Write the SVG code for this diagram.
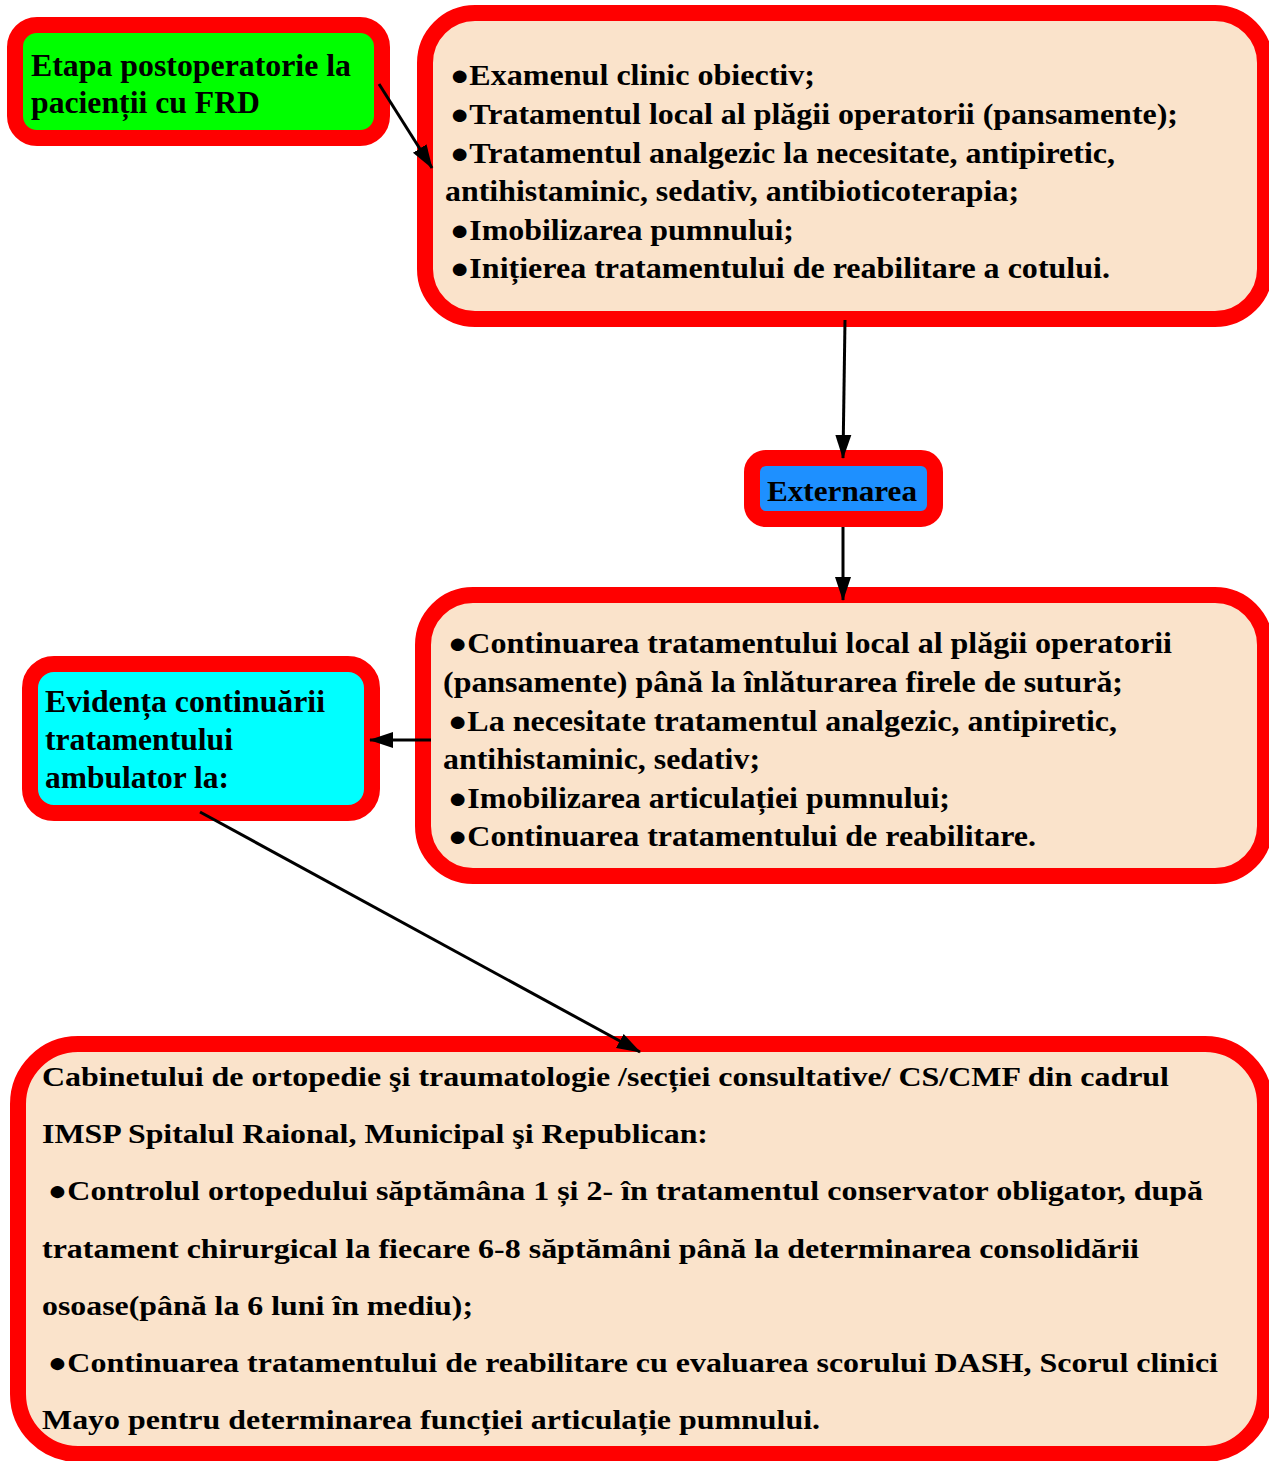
<svg xmlns="http://www.w3.org/2000/svg" width="1269" height="1461" viewBox="0 0 1269 1461">
<style>
.box{stroke:#FF0000;stroke-width:16}
.t{font-family:"Liberation Serif","Times New Roman",serif;font-weight:bold;fill:#000}
.c{stroke:#000;stroke-width:3;fill:none;marker-end:url(#ah)}
</style>
<defs>
<marker id="ah" markerUnits="userSpaceOnUse" markerWidth="24" markerHeight="20" viewBox="0 0 24 20" refX="23" refY="10" orient="auto">
<path d="M0,2 L24,10 L0,18 Z" fill="#000"/>
</marker>
</defs>
<rect width="1269" height="1461" fill="#fff"/>
<g id="n1">
<rect class="box" x="15" y="25" width="367" height="113" rx="22" fill="#00FF00"/>
<text class="t" font-size="31" x="31" y="76" textLength="320" lengthAdjust="spacingAndGlyphs">Etapa postoperatorie la</text>
<text class="t" font-size="31" x="31" y="113" textLength="229" lengthAdjust="spacingAndGlyphs">pacienții cu FRD</text>
</g>
<g id="n2">
<rect class="box" x="425" y="13" width="840" height="306" rx="50" fill="#FAE3CB"/>
<g class="t" font-size="29">
<text x="450" y="85" textLength="365" lengthAdjust="spacingAndGlyphs">●Examenul clinic obiectiv;</text>
<text x="450" y="124" textLength="728" lengthAdjust="spacingAndGlyphs">●Tratamentul local al plăgii operatorii (pansamente);</text>
<text x="450" y="163" textLength="665" lengthAdjust="spacingAndGlyphs">●Tratamentul analgezic la necesitate, antipiretic,</text>
<text x="445" y="201" textLength="574" lengthAdjust="spacingAndGlyphs">antihistaminic, sedativ, antibioticoterapia;</text>
<text x="450" y="240" textLength="344" lengthAdjust="spacingAndGlyphs">●Imobilizarea pumnului;</text>
<text x="450" y="278" textLength="660" lengthAdjust="spacingAndGlyphs">●Inițierea tratamentului de reabilitare a cotului.</text>
</g>
</g>
<g id="n3">
<rect class="box" x="752" y="458" width="183" height="61" rx="14" fill="#1E90FF"/>
<text class="t" font-size="30" x="767" y="501" textLength="150" lengthAdjust="spacingAndGlyphs">Externarea</text>
</g>
<g id="n4">
<rect class="box" x="423" y="595" width="842" height="281" rx="50" fill="#FAE3CB"/>
<g class="t" font-size="29">
<text x="448" y="653" textLength="724" lengthAdjust="spacingAndGlyphs">●Continuarea tratamentului local al plăgii operatorii</text>
<text x="443" y="692" textLength="680" lengthAdjust="spacingAndGlyphs">(pansamente) până la înlăturarea firele de sutură;</text>
<text x="448" y="731" textLength="669" lengthAdjust="spacingAndGlyphs">●La necesitate tratamentul analgezic, antipiretic,</text>
<text x="443" y="769" textLength="317" lengthAdjust="spacingAndGlyphs">antihistaminic, sedativ;</text>
<text x="448" y="808" textLength="502" lengthAdjust="spacingAndGlyphs">●Imobilizarea articulației pumnului;</text>
<text x="448" y="846" textLength="588" lengthAdjust="spacingAndGlyphs">●Continuarea tratamentului de reabilitare.</text>
</g>
</g>
<g id="n5">
<rect class="box" x="30" y="664" width="342" height="149" rx="24" fill="#00FFFF"/>
<text class="t" font-size="31" x="45" y="712" textLength="280" lengthAdjust="spacingAndGlyphs">Evidența continuării</text>
<text class="t" font-size="31" x="45" y="750" textLength="188" lengthAdjust="spacingAndGlyphs">tratamentului</text>
<text class="t" font-size="31" x="45" y="788" textLength="184" lengthAdjust="spacingAndGlyphs">ambulator la:</text>
</g>
<g id="n6">
<rect class="box" x="18" y="1044" width="1247" height="410" rx="60" fill="#FAE3CB"/>
<g class="t" font-size="28">
<text x="42" y="1086" textLength="1127" lengthAdjust="spacingAndGlyphs">Cabinetului de ortopedie şi traumatologie /secției consultative/ CS/CMF din cadrul</text>
<text x="42" y="1143" textLength="666" lengthAdjust="spacingAndGlyphs">IMSP Spitalul Raional, Municipal şi Republican:</text>
<text x="48" y="1200" textLength="1155" lengthAdjust="spacingAndGlyphs">●Controlul ortopedului săptămâna 1 și 2- în tratamentul conservator obligator, după</text>
<text x="42" y="1258" textLength="1097" lengthAdjust="spacingAndGlyphs">tratament chirurgical la fiecare 6-8 săptămâni până la determinarea consolidării</text>
<text x="42" y="1315" textLength="431" lengthAdjust="spacingAndGlyphs">osoase(până la 6 luni în mediu);</text>
<text x="48" y="1372" textLength="1170" lengthAdjust="spacingAndGlyphs">●Continuarea tratamentului de reabilitare cu evaluarea scorului DASH, Scorul clinici</text>
<text x="42" y="1429" textLength="778" lengthAdjust="spacingAndGlyphs">Mayo pentru determinarea funcției articulație pumnului.</text>
</g>
</g>
<g id="connectors">
<line class="c" x1="379" y1="84" x2="432" y2="168"/>
<line class="c" x1="845" y1="320" x2="843" y2="458"/>
<line class="c" x1="843" y1="527" x2="843" y2="600"/>
<line class="c" x1="431" y1="740" x2="370" y2="740"/>
<line class="c" x1="200" y1="812" x2="640" y2="1052"/>
</g>
</svg>
